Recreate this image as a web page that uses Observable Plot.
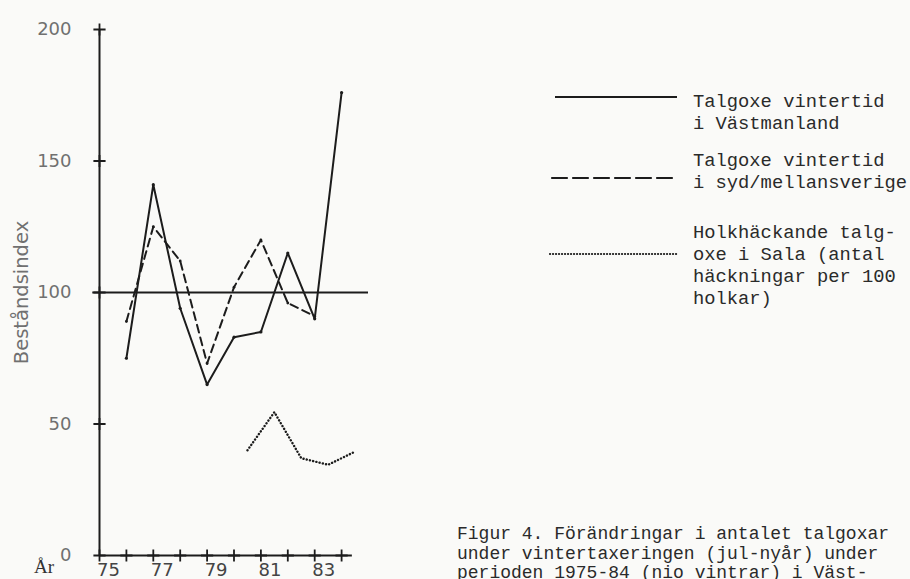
<!DOCTYPE html>
<html>
<head>
<meta charset="utf-8">
<script src="https://cdn.jsdelivr.net/npm/d3@7"></script>
<script src="https://cdn.jsdelivr.net/npm/@observablehq/plot@0.6"></script>
<style>
  html, body { margin: 0; padding: 0; background: #fafaf8; }
  #wrap { position: relative; width: 910px; height: 579px; overflow: hidden; background: #fafaf8; }
  #wrap > svg { position: absolute; left: 0; top: 0; }
  .mono { position: absolute; font-family: "Liberation Mono", "DejaVu Sans Mono", monospace; white-space: pre; color: #2a2a2a; }
  .leg { left: 693px; font-size: 18.8px; line-height: 22px; }
  .cap { left: 457px; top: 525px; font-size: 18px; line-height: 19.5px; }
  #ar { position: absolute; left: 34px; top: 556px; font-family: "Liberation Serif", serif; font-size: 19px; color: #333; }
  #swatch { position: absolute; left: 0; top: 0; }
</style>
</head>
<body>
<div id="wrap"></div>
<script>
// ---- data ----
const years = [76, 77, 78, 79, 80, 81, 82, 83, 84];
const vastmanland = [75, 141, 94, 65, 83, 85, 115, 90, 176];
const sydYears = [76, 77, 78, 79, 80, 81, 82, 83];
const sydMellan = [89, 125, 112, 73, 102, 120, 96, 91];
const salaYears = [80.5, 81.5, 82.5, 83.5, 84.5];
const sala = [40, 54.5, 37, 34.5, 39.5];
const xTickLabels = [75, 77, 79, 81, 83];
const xTickMarks = [75, 76, 77, 78, 79, 80, 81, 82, 83, 84];
const yTickLabels = [0, 50, 100, 150, 200];
const yTickMarks = [50, 100, 150, 200];
const referenceLevel = [100];
const yLabel = "Beståndsindex";
const xLabel = "År";
const legendLabels = [
  ["Talgoxe vintertid", "i Västmanland"],
  ["Talgoxe vintertid", "i syd/mellansverige"],
  ["Holkhäckande talg-", "oxe i Sala (antal", "häckningar per 100", "holkar)"]
];
const captionLines = [
  "Figur 4. Förändringar i antalet talgoxar",
  "under vintertaxeringen (jul-nyår) under",
  "perioden 1975-84 (nio vintrar) i Väst-"
];

// ---- chart ----
const ink = "#1c1c1c";
const solid = years.map((x, i) => ({x, y: vastmanland[i]}));
const dashed = sydYears.map((x, i) => ({x, y: sydMellan[i]}));
const dotted = salaYears.map((x, i) => ({x, y: sala[i]}));

const chart = Plot.plot({
  width: 910,
  height: 579,
  marginLeft: 99,
  marginRight: 542,
  marginTop: 29,
  marginBottom: 24,
  style: {background: "transparent", overflow: "visible"},
  x: {domain: [75, 85]},
  y: {domain: [0, 200]},
  marks: [
    Plot.axisY({
      ticks: yTickLabels, tickSize: 0, tickPadding: 28,
      fontSize: 18, fontFamily: "DejaVu Sans", color: "#707070", label: null
    }),
    Plot.axisY({
      ticks: [], tickSize: 0,
      fontSize: 19.5, fontFamily: "DejaVu Sans", color: "#707070",
      label: yLabel, labelAnchor: "center", labelArrow: "none", labelOffset: 85
    }),
    Plot.axisX({
      ticks: xTickLabels, tickSize: 0, tickPadding: 8, dx: 9,
      tickFormat: d => String(d),
      fontSize: 18, fontFamily: "DejaVu Sans", color: "#444", label: null
    }),
    Plot.ruleX([75], {y1: 0, y2: 200, stroke: ink, strokeWidth: 2}),
    Plot.ruleY([0], {x1: 75, x2: 84.4, stroke: ink, strokeWidth: 2}),
    Plot.ruleY(referenceLevel, {x1: 74.75, x2: 85, stroke: ink, strokeWidth: 2}),
    Plot.dot(xTickMarks, {x: d => d, y: () => 0, symbol: "plus", r: 4, stroke: ink, strokeWidth: 1.8}),
    Plot.dot(yTickMarks, {x: () => 75, y: d => d, symbol: "plus", r: 4, stroke: ink, strokeWidth: 1.8}),
    Plot.line(dashed, {x: "x", y: "y", stroke: ink, strokeWidth: 2, strokeDasharray: "8,5"}),
    Plot.line(solid, {x: "x", y: "y", stroke: ink, strokeWidth: 2}),
    Plot.line(dotted, {x: "x", y: "y", stroke: ink, strokeWidth: 2.4, strokeDasharray: "0.1,3.2", strokeLinecap: "round"}),
    Plot.dot(solid, {x: "x", y: "y", r: 1.6, fill: ink}),
    Plot.dot(dashed, {x: "x", y: "y", r: 1.4, fill: ink})
  ]
});

const wrap = document.getElementById("wrap");
wrap.appendChild(chart);

// legend swatches
const ns = "http://www.w3.org/2000/svg";
const sw = document.createElementNS(ns, "svg");
sw.setAttribute("id", "swatch");
sw.setAttribute("width", 910);
sw.setAttribute("height", 579);
const swatchDefs = [
  {y: 97, x1: 555, x2: 677, dash: null, w: 2.2},
  {y: 178, x1: 552, x2: 677, dash: "15,6", w: 2.2},
  {y: 254, x1: 550, x2: 678, dash: "0.1,2.9", w: 2.2}
];
swatchDefs.forEach(s => {
  const l = document.createElementNS(ns, "line");
  l.setAttribute("x1", s.x1); l.setAttribute("x2", s.x2);
  l.setAttribute("y1", s.y); l.setAttribute("y2", s.y);
  l.setAttribute("stroke", ink); l.setAttribute("stroke-width", s.w);
  if (s.dash) { l.setAttribute("stroke-dasharray", s.dash); l.setAttribute("stroke-linecap", "round"); }
  sw.appendChild(l);
});
wrap.appendChild(sw);

const legendTops = [91, 150, 222];
legendLabels.forEach((lines, i) => {
  const d = document.createElement("div");
  d.className = "mono leg";
  d.style.top = legendTops[i] + "px";
  d.textContent = lines.join("\n");
  wrap.appendChild(d);
});

const cap = document.createElement("div");
cap.className = "mono cap";
cap.textContent = captionLines.join("\n");
wrap.appendChild(cap);

const ar = document.createElement("div");
ar.id = "ar";
ar.textContent = xLabel;
wrap.appendChild(ar);
</script>
</body>
</html>
